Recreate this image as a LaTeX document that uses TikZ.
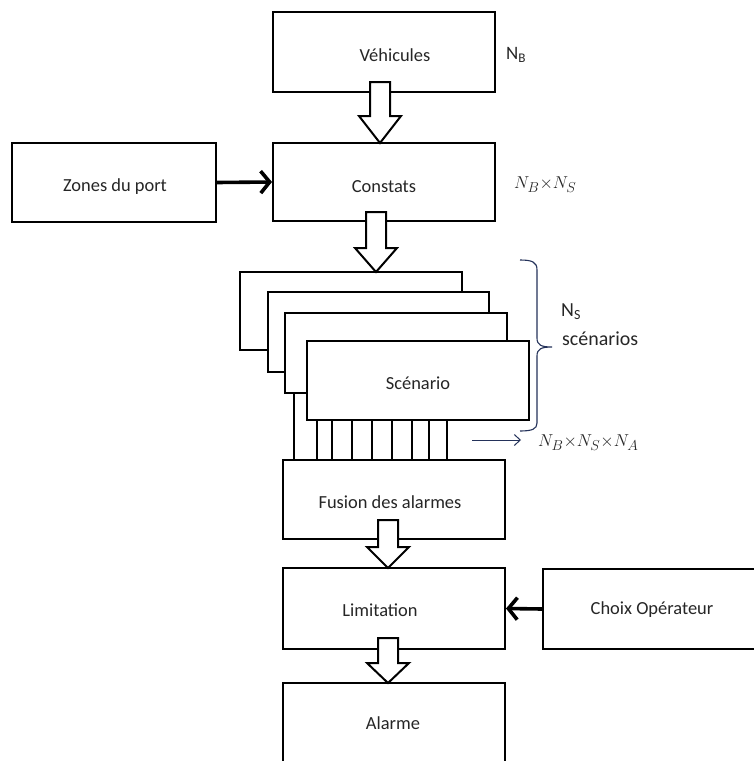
\documentclass[tikz,border=0pt]{standalone}
\usepackage{fontspec}
\setmainfont{Carlito}
\usetikzlibrary{arrows.meta,calc}
\definecolor{txtc}{HTML}{262626}
\definecolor{navy}{HTML}{24325A}
\newcommand\blockarrow[4]{% x, shaft top, wing y, tip y
  \draw[hollowarr] (#1-10,#2) -- (#1+10,#2) -- (#1+10,#3) -- (#1+21,#3) -- (#1,#4) -- (#1-21,#3) -- (#1-10,#3) -- cycle;}
\begin{document}
\begin{tikzpicture}[x=1bp,y=-1bp,
  box/.style={draw=black,line width=2bp,fill=white,minimum width=222bp,inner sep=0pt},
  txt/.style={text=txtc,font=\fontsize{18.5}{21}\selectfont,inner sep=0pt},
  hollowarr/.style={draw=black,line width=2bp,fill=white,line join=miter},
  thickarr/.style={line width=3.6bp,-{Straight Barb[length=9bp,width=22bp]}},
  mlab/.style={text=txtc,font=\fontsize{19}{22}\selectfont,inner sep=0pt},
  slab/.style={text=txtc,font=\fontsize{20}{23}\selectfont,inner sep=0pt,align=left}]
\clip (0,0) rectangle (754,761);
\fill[white] (0,0) rectangle (754,761);

% main boxes
\node[box,minimum height=80bp] (veh) at (384,52) {};
\node[box,minimum height=78bp] (const) at (384,182) {};
\node[box,minimum width=204bp,minimum height=79bp] (zones) at (114,182.5) {};
\node[box,minimum height=79bp] (fusion) at (394,499.5) {};
\node[box,minimum height=81bp] (lim) at (394,608.5) {};
\node[box,minimum height=92bp] (alarme) at (394,729) {};
\node[box,minimum height=80bp] (choix) at (654,609) {};

% stack of scenarios
\node[box,minimum height=78bp] (s1) at (351,311) {};
\node[box,minimum height=80bp,minimum width=221bp] (s2) at (378.5,332) {};
\node[box,minimum height=80bp] (s3) at (396,353) {};
\node[box,minimum height=79bp] (scen) at (418,380.5) {};

% texts
\node[txt] at (395,55) {Véhicules};
\node[txt] at (115,187) {Zones du port};
\node[txt] at (384,187) {Constats};
\node[txt] at (418,383) {Scénario};
\node[txt] at (390,502) {Fusion des alarmes};
\node[txt] at (380,610) {Limitation};
\node[txt] at (652,610) {Choix Opérateur};
\node[txt] at (393,723) {Alarme};

% parallel lines between scenarios and fusion
\draw[line width=2bp] (294,393) -- (294,460);
\foreach \x in {317,332,352,372,392,412,429,447}
  \draw[line width=2bp] (\x,420) -- (\x,460);

% block arrows
\blockarrow{380}{82}{116}{143}
\blockarrow{376}{212}{248}{272}
\blockarrow{388}{520}{547}{568}
\blockarrow{388}{638}{663}{683}

% thick arrows
\draw[thickarr] (zones.east) -- (const.west);
\draw[thickarr] (choix.west) -- (lim.east);

% labels
\node[txt,font=\fontsize{19}{22}\selectfont,anchor=west] (nb) at (506,55) {N\textsubscript{B}};
\node[mlab,anchor=west] (nbs) at (514,185) {$N_B{\times}N_S$};
\node[mlab,anchor=west] (nbsa) at (538,443) {$N_B{\times}N_S{\times}N_A$};
\coordinate (ta) at (472,440);
\coordinate (tb) at (521,440);
\draw[navy,line width=1bp,-{Straight Barb[length=6bp,width=11bp]}] (ta) -- (tb);

% brace
\draw[navy,line width=1.1bp] (520,260) .. controls (532,260) and (537,262) .. (537,270) -- (537,338)
  .. controls (537,345) and (541,347) .. (552,347) .. controls (541,347) and (537,349) .. (537,356)
  -- (537,423) .. controls (537,429) and (532,431) .. (520,431);
\node[slab,anchor=west] at (561,312) {N\textsubscript{S}};
\node[slab,anchor=west] at (562,339) {scénarios};
\end{tikzpicture}
\end{document}
